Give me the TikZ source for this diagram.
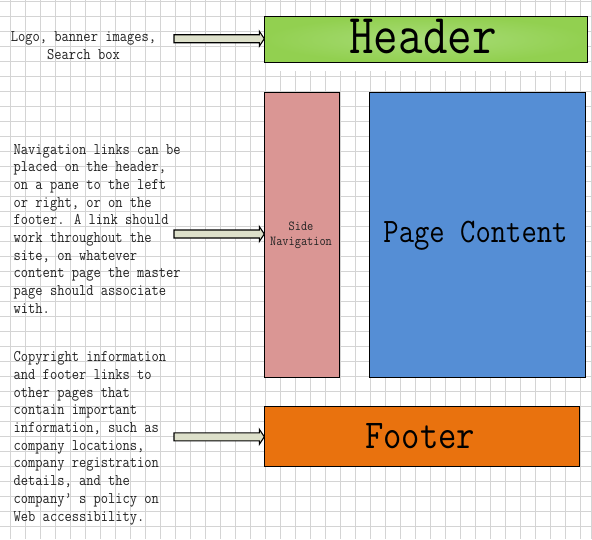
\documentclass[tikz,border=0pt]{standalone}
\usetikzlibrary{calc}
\usepackage{graphicx}
\definecolor{gridc}{RGB}{212,212,212}
\definecolor{headg}{HTML}{92D050}
\definecolor{headgl}{HTML}{A8DC78}
\definecolor{navc}{HTML}{DA9694}
\definecolor{contc}{HTML}{558ED5}
\definecolor{footc}{HTML}{E9720E}
\definecolor{arrc}{HTML}{DDE0CA}
\definecolor{txtc}{RGB}{35,35,35}
\newcommand\blockarrow[2]{%
  \filldraw[arrowbody] ($(#1)+(0,-4)$) -- ($(#2)+(-5,-4)$) -- ($(#2)+(-5,-7.5)$) -- (#2)
    -- ($(#2)+(-5,7.5)$) -- ($(#2)+(-5,4)$) -- ($(#1)+(0,4)$) -- cycle;}
\newcommand\talltext[2]{\scalebox{1}[#1]{#2}}
\tikzset{
  box/.style={draw=black, line width=1.1pt, inner sep=0pt, anchor=north west},
  arrowbody/.style={fill=arrc, draw=black, line width=1.1pt, line join=miter},
  desc/.style={inner sep=0pt, text=txtc, font=\ttfamily\fontsize{14.1}{15.4}\selectfont},
  biglabel/.style={inner sep=0pt, anchor=base, text=black},
}
\begin{document}
\begin{tikzpicture}[x=1pt,y=-1pt]
\useasboundingbox (0,0) rectangle (592,539);
\fill[white] (0,0) rectangle (592,539);
% grid
\foreach \i in {0,...,38} \draw[gridc, line width=0.8pt] (10.7+15*\i,0) -- (10.7+15*\i,539);
\draw[gridc, line width=0.8pt] (591.2,0) -- (591.2,539);
\foreach \j in {0,...,35} \draw[gridc, line width=0.8pt] (0,1.7+15*\j) -- (592,1.7+15*\j);
\fill[white] (267,62) rectangle (590.6,71);
% boxes
\node[box, minimum width=322pt, minimum height=45pt] (header) at (264.3,16.3) {};
\shade[inner color=headgl, outer color=headg] (header.north west) rectangle (header.south east);
\draw[black, line width=1.1pt] (header.north west) rectangle (header.south east);
\node[box, fill=navc, minimum width=75pt, minimum height=285pt] (nav) at (264.3,91.5) {};
\node[box, fill=contc, minimum width=216pt, minimum height=285pt] (content) at (369.3,91.5) {};
\node[box, fill=footc, minimum width=315pt, minimum height=60pt] (footer) at (264.3,406.3) {};
% labels
\node[biglabel, font=\ttfamily\fontsize{47.6}{50}\selectfont] (headerlbl) at (423,53.3) {\talltext{1.18}{Header}};
\node[biglabel, font=\ttfamily\fontsize{29.8}{32}\selectfont] (contentlbl) at (475.5,242.7) {\talltext{1.15}{Page Content}};
\node[biglabel, font=\ttfamily\fontsize{35.6}{38}\selectfont] (footerlbl) at (420,448.3) {\talltext{1.15}{Footer}};
\node[biglabel, text=txtc, font=\ttfamily\fontsize{12}{13.2}\selectfont] (navlbl) at (301,230)
  {\talltext{1.15}{\begin{tabular}[t]{@{}c@{}}Side\\Navigation\end{tabular}}};
% descriptions
\node[desc, anchor=base] (logotxt) at (83.5,41.7)
  {\talltext{1.15}{\begin{tabular}[t]{@{}c@{}}Logo, banner images,\\Search box\end{tabular}}};
\node[desc, anchor=base west] (navtxt) at (13.5,154)
  {\talltext{1.15}{\begin{tabular}[t]{@{}l@{}}Navigation links can be\\placed on the header,\\on a pane to the left\\or right, or on the\\footer. A link should\\work throughout the\\site, on whatever\\content page the master\\page should associate\\with.\end{tabular}}};
\node[desc, anchor=base west] (foottxt) at (13.5,361.7)
  {\talltext{1.15}{\begin{tabular}[t]{@{}l@{}}Copyright information\\and footer links to\\other pages that\\contain important\\information, such as\\company locations,\\company registration\\details, and the\\company’ s policy on\\Web accessibility.\end{tabular}}};
% arrows
\coordinate (a1) at (174,38.7);
\coordinate (a2) at (174,234);
\coordinate (a3) at (174,436.8);
\blockarrow{a1}{header.west |- a1}
\blockarrow{a2}{nav.west |- a2}
\blockarrow{a3}{footer.west |- a3}
\end{tikzpicture}
\end{document}
